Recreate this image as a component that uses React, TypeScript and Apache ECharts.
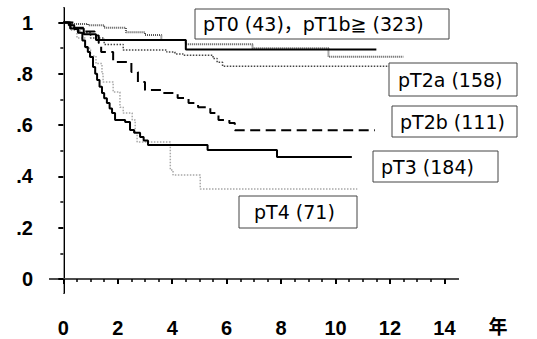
import React, { useEffect, useRef } from "react";
import * as echarts from "echarts";

// ---- tick values / labels ----
const xMajorTicks = [0, 2, 4, 6, 8, 10, 12, 14];
const xMinorTicks = [0.5, 1, 1.5, 2.5, 3, 3.5, 4.5, 5, 5.5, 6.5, 7, 7.5, 8.5, 9, 9.5, 10.5, 11, 11.5, 12.5, 13, 13.5];
const yMajorTicks = [0, 0.2, 0.4, 0.6, 0.8, 1];
const yTickLabels = ["0", ".2", ".4", ".6", ".8", "1"];
const yMinorTicks = [0.1, 0.3, 0.5, 0.7, 0.9];
const xUnit = "年";

// ---- legend labels ----
const legendLabels = ["pT0 (43)，pT1b≧ (323)", "pT2a (158)", "pT2b (111)", "pT3 (184)", "pT4 (71)"];

// ---- survival curves: [years, survival] ----
const pT0 = [[0, 1], [0.25, 0.977], [0.75, 0.955], [1.2, 0.932], [4.5, 0.895], [11.5, 0.895]];
const pT1b = [[0, 1], [0.3, 0.995], [0.9, 0.99], [1.5, 0.98], [2.3, 0.962], [3.0, 0.952], [3.6, 0.932], [4.5, 0.916], [6.95, 0.9], [9.74, 0.867], [12.5, 0.867]];
const pT2a = [[0, 1], [0.3, 0.98], [0.6, 0.96], [1.0, 0.94], [1.5, 0.915], [2.2, 0.893], [3.8, 0.885], [4.1, 0.878], [4.4, 0.873], [5.5, 0.86], [5.65, 0.845], [5.85, 0.83], [12.5, 0.83]];
const pT2b = [[0, 1], [0.4, 0.98], [0.8, 0.965], [1.15, 0.95], [1.3, 0.92], [1.39, 0.885], [1.83, 0.846], [2.5, 0.807], [2.74, 0.768], [3.0, 0.737], [3.6, 0.725], [4.2, 0.706], [4.6, 0.686], [4.95, 0.67], [5.4, 0.647], [5.7, 0.62], [6.1, 0.608], [6.3, 0.58], [11.45, 0.58]];
const pT3 = [[0, 1], [0.2, 0.99], [0.4, 0.975], [0.54, 0.96], [0.7, 0.93], [0.8, 0.905], [0.9, 0.885], [0.98, 0.866], [1.09, 0.827], [1.17, 0.8], [1.24, 0.776], [1.33, 0.75], [1.42, 0.725], [1.5, 0.705], [1.6, 0.686], [1.7, 0.665], [1.79, 0.647], [1.9, 0.62], [2.27, 0.612], [2.45, 0.581], [2.6, 0.57], [2.82, 0.554], [2.95, 0.54], [3.11, 0.522], [5.3, 0.503], [7.85, 0.476], [10.6, 0.476]];
const pT4 = [[0, 1], [0.3, 0.97], [0.5, 0.94], [0.8, 0.9], [1.0, 0.87], [1.2, 0.84], [1.42, 0.8], [1.46, 0.768], [1.83, 0.729], [2.08, 0.67], [2.2, 0.647], [2.53, 0.62], [2.64, 0.57], [2.71, 0.534], [3.93, 0.425], [4.03, 0.405], [5.03, 0.351], [10.8, 0.351]];

// layout
const W = 537;
const H = 339;
const G = { left: 50, top: 8, right: 79, bottom: 46 };
const X_MIN = -0.49;
const X_MAX = 14.5;
const Y_MIN = -0.055;
const Y_MAX = 1.057;

const tickFont = { color: "#000", fontSize: 20, fontWeight: "bold" as const, fontFamily: "Liberation Sans, Arial, sans-serif" };
const boxFont = "DejaVu Sans, Noto Sans CJK JP, sans-serif";

function box(label: string, x: number, y: number, w: number, h: number, pad: number) {
  return {
    type: "group",
    x,
    y,
    z: 100,
    children: [
      { type: "rect", shape: { x: 0, y: 0, width: w, height: h }, style: { fill: "#fff", stroke: "#444", lineWidth: 1 }, z: 100 },
      { type: "text", x: pad, y: h / 2, z: 101, style: { text: label, fill: "#000", fontSize: 19, fontFamily: boxFont, verticalAlign: "middle", align: "left" } },
    ],
  };
}

export default function App() {
  const ref = useRef<HTMLDivElement>(null);
  useEffect(() => {
    if (!ref.current) return;
    const chart = echarts.init(ref.current, null, { renderer: "svg" });
    const fmtY = (v: number) => {
      const i = yMajorTicks.findIndex((t) => Math.abs(t - v) < 1e-6);
      return i >= 0 ? yTickLabels[i] : "";
    };
    const fmtX = (v: number) => {
      const i = xMajorTicks.findIndex((t) => Math.abs(t - v) < 1e-6);
      return i >= 0 ? String(xMajorTicks[i]) : "";
    };
    const line = (name: string, data: number[][], color: string, width: number, type: any, z: number) => ({
      name,
      type: "line",
      data,
      step: "end",
      symbol: "none",
      xAxisIndex: 0,
      yAxisIndex: 0,
      z,
      lineStyle: { color, width, type },
    });
    chart.setOption({
      animation: false,
      backgroundColor: "#fff",
      grid: { ...G, containLabel: false },
      xAxis: [
        {
          type: "value", min: X_MIN, max: X_MAX, position: "bottom",
          axisLine: { show: true, lineStyle: { color: "#000", width: 2 } },
          axisTick: { show: true, customValues: xMajorTicks, length: 5, lineStyle: { color: "#000", width: 2 } },
          axisLabel: { show: true, customValues: xMajorTicks, formatter: fmtX, margin: 25, ...tickFont },
          splitLine: { show: false },
        },
        {
          type: "value", min: X_MIN, max: X_MAX, position: "bottom",
          axisLine: { show: false },
          axisTick: { show: true, customValues: xMinorTicks, length: 3, lineStyle: { color: "#000", width: 1.5 } },
          axisLabel: { show: false },
          splitLine: { show: false },
        },
        {
          type: "value", min: X_MIN, max: X_MAX, position: "top",
          axisLine: { show: true, lineStyle: { color: "#666", width: 1.5 } },
          axisTick: { show: false },
          axisLabel: { show: false },
          splitLine: { show: false },
        },
      ],
      yAxis: [
        {
          type: "value", min: Y_MIN, max: Y_MAX, position: "left",
          axisLine: { show: true, lineStyle: { color: "#000", width: 2 } },
          axisTick: { show: true, customValues: yMajorTicks, length: 5, lineStyle: { color: "#000", width: 2 } },
          axisLabel: { show: true, customValues: yMajorTicks, formatter: fmtY, margin: 17, ...tickFont },
          splitLine: { show: false },
        },
        {
          type: "value", min: Y_MIN, max: Y_MAX, position: "left",
          axisLine: { show: false },
          axisTick: { show: true, customValues: yMinorTicks, length: 3, lineStyle: { color: "#000", width: 1.5 } },
          axisLabel: { show: false },
          splitLine: { show: false },
        },
        {
          type: "value", min: Y_MIN, max: Y_MAX, position: "right",
          axisLine: { show: true, lineStyle: { color: "#999", width: 1 } },
          axisTick: { show: false },
          axisLabel: { show: false },
          splitLine: { show: false },
        },
      ],
      series: [
        line("pT4", pT4, "#a8a8a8", 1.5, [1.5, 1.5], 2),
        line("pT2a", pT2a, "#444", 1.5, [1.5, 1.5], 3),
        line("pT1b", pT1b, "#555", 2, [1, 1], 4),
        line("pT2b", pT2b, "#000", 2, [10, 5.5], 5),
        line("pT3", pT3, "#000", 2, "solid", 6),
        line("pT0", pT0, "#000", 2, "solid", 7),
      ],
      graphic: [
        box(legendLabels[0], 195, 9, 254, 30, 8),
        box(legendLabels[1], 389, 63, 128, 33, 9),
        box(legendLabels[2], 392, 106, 125, 31, 8),
        box(legendLabels[3], 373, 151, 125, 31, 8),
        box(legendLabels[4], 239, 196, 118, 32, 15),
        {
          type: "text", x: 498, y: 325, z: 100,
          style: { text: xUnit, fill: "#000", fontSize: 19, fontWeight: "bold", fontFamily: "Noto Sans CJK JP, sans-serif", align: "center", verticalAlign: "middle" },
        },
      ],
    });
    return () => chart.dispose();
  }, []);
  return <div ref={ref} style={{ position: "fixed", left: 0, top: 0, width: W, height: H }} />;
}
